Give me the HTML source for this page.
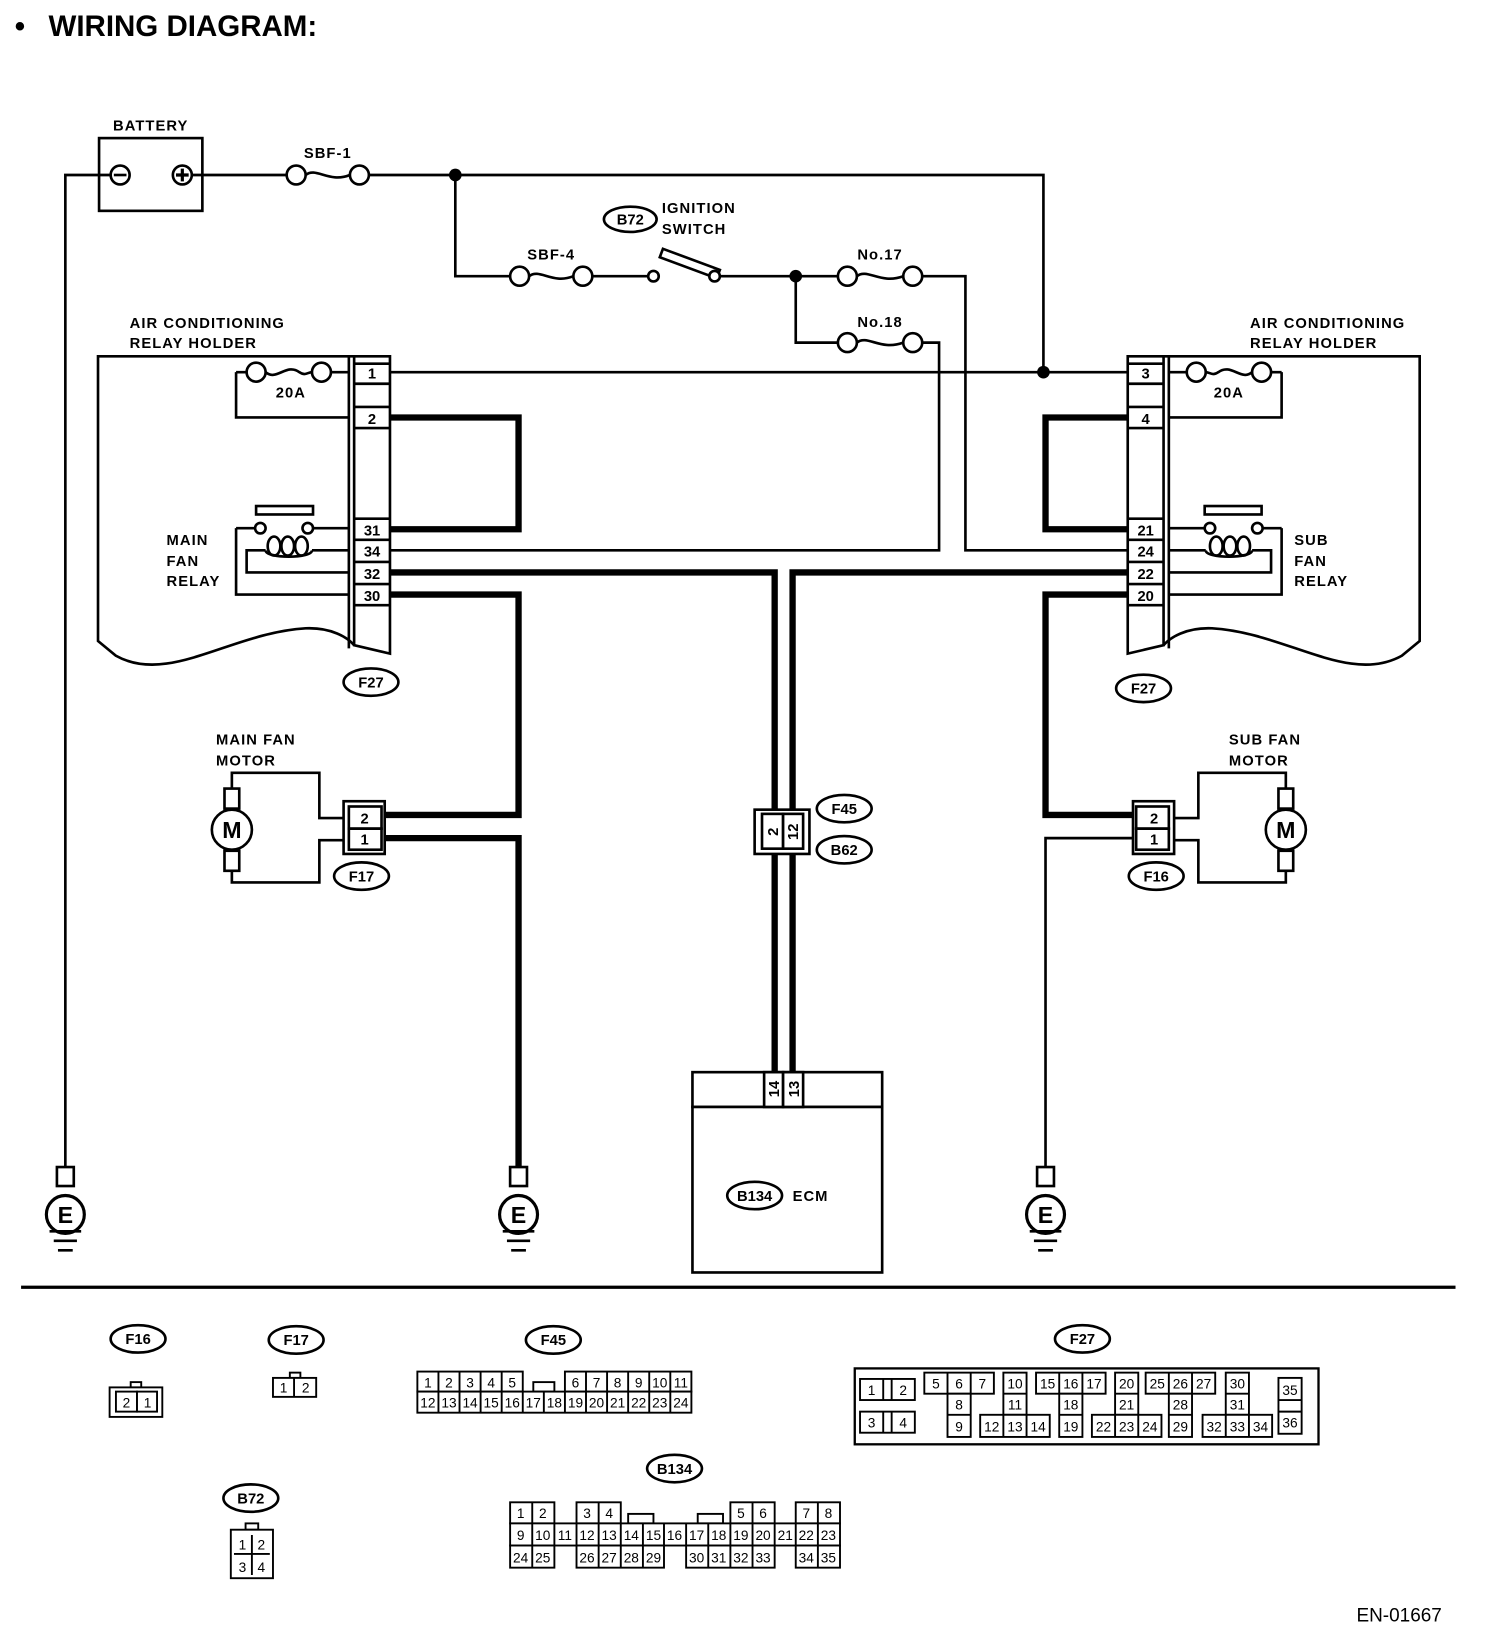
<!DOCTYPE html>
<html><head><meta charset="utf-8"><style>
html,body{margin:0;padding:0;background:#fff;}
svg{display:block;}
text{font-family:"Liberation Sans",sans-serif;fill:#000;}
.b{font-weight:bold;font-size:14px;letter-spacing:1px;}
.c{font-size:13px;text-anchor:middle;}
.cb{font-weight:bold;font-size:14px;text-anchor:middle;}
</style></head><body>
<svg width="1504" height="1652" viewBox="0 0 1427 1567" preserveAspectRatio="none" xmlns="http://www.w3.org/2000/svg">
<defs>
<g id="holder" fill="none" stroke="#000" stroke-width="2.5">
 <path d="M370,338 H93 V608 L110,622 C160,650 220,600 290,596 C315,595 330,605 336,612"/>
 <path d="M331,338 V615"/>
 <path d="M336,338 V612 L370,620 V338 Z" fill="#fff"/>
 <path d="M336,345 H370 M336,364 H370 M336,386 H370 M336,406 H370 M336,492 H370 M336,512 H370 M336,533 H370 M336,554 H370 M336,574 H370"/>
 <path d="M224,353 H234 M314,353 H331 M224,353 V396 H331"/>
 <circle cx="243" cy="353" r="9"/><circle cx="305" cy="353" r="9"/>
 <path d="M252,353 C262,362 272,344 284,353 C290,357 292,353 296,353"/>
 <rect x="243" y="480" width="54" height="8"/>
 <circle cx="247" cy="501" r="5"/><circle cx="292" cy="501" r="5"/>
 <path d="M224,501 H242 M297,501 H331 M224,501 V564 H331"/>
 <path d="M331,522 H296 M252,522 H234 V543 H331"/>
 <ellipse cx="260" cy="518" rx="6" ry="9"/><ellipse cx="273" cy="518" rx="6" ry="9"/><ellipse cx="286" cy="518" rx="6" ry="9"/>
 <path d="M252,522 C252,530 296,530 296,522"/>
</g>
<g id="motor" fill="none" stroke="#000" stroke-width="2.5">
 <circle cx="220" cy="787" r="19"/>
 <rect x="213" y="748" width="14" height="19" fill="#fff"/>
 <rect x="213" y="807" width="14" height="19" fill="#fff"/>
 <path d="M220,748 V733 H303 V776 H326 M220,826 V837 H303 V797 H326"/>
 <rect x="326" y="760" width="39" height="50" fill="#fff"/>
 <rect x="331" y="765" width="31" height="21"/><rect x="331" y="786" width="31" height="20"/>
</g>
<g id="gnd" fill="none" stroke="#000">
 <rect x="-8" y="1107" width="16" height="18" stroke-width="2.5" fill="#fff"/>
 <circle cx="0" cy="1152" r="18" stroke-width="3" fill="#fff"/>
 <path d="M-15,1168 H15 M-11,1177 H11 M-7,1186 H7" stroke-width="2.5"/>
</g>
</defs>

<text x="14" y="34" style="font-weight:bold;font-size:28px">•</text>
<text x="46" y="34" style="font-weight:bold;font-size:28px">WIRING DIAGRAM:</text>

<g fill="none" stroke="#000" stroke-width="2.5">
 <path d="M62,1107 V166 H105"/>
 <path d="M182,166 H272 M350,166 H990 V353"/>
 <path d="M432,166 V262 H484 M562,262 H615 M683,262 H795 M875,262 H916 V522 H1070"/>
 <path d="M755,262 V325 H795 M875,325 H891 V522 H370"/>
 <path d="M370,353 H1070"/>
 <path d="M1075,795 H992 V1107"/>
</g>
<g fill="none" stroke="#000" stroke-width="6">
 <path d="M370,396 H492 V502 H370"/>
 <path d="M1070,396 H992 V502 H1070"/>
 <path d="M370,543 H735 V1020"/>
 <path d="M1070,543 H752 V1020"/>
 <path d="M370,564 H492 V773 H365"/>
 <path d="M365,795 H492 V1107"/>
 <path d="M1070,564 H992 V773 H1075"/>
</g>
<circle cx="432" cy="166" r="6"/><circle cx="755" cy="262" r="6"/><circle cx="990" cy="353" r="6"/>

<g fill="none" stroke="#000" stroke-width="2.5">
 <rect x="94" y="131" width="98" height="69"/>
 <circle cx="114" cy="166" r="9"/><path d="M108,166 H120"/>
 <circle cx="173" cy="166" r="9"/><path d="M167,166 H179 M173,160 V172" stroke-width="3"/>
 <circle cx="281" cy="166" r="9"/><circle cx="341" cy="166" r="9"/><path d="M290,166 C300,158 312,174 332,166"/>
 <circle cx="493" cy="262" r="9"/><circle cx="553" cy="262" r="9"/><path d="M502,262 C512,254 524,270 544,262"/>
 <circle cx="804" cy="262" r="9"/><circle cx="866" cy="262" r="9"/><path d="M813,262 C823,254 835,270 857,262"/>
 <circle cx="804" cy="325" r="9"/><circle cx="866" cy="325" r="9"/><path d="M813,325 C823,317 835,333 857,325"/>
 <circle cx="620" cy="262" r="5" fill="#fff"/>
 <path d="M629,236 L683,256 L680,264 L626,244 Z" fill="#fff"/>
 <circle cx="678" cy="262" r="5" fill="#fff"/>
</g>
<text class="b" x="143" y="124" text-anchor="middle">BATTERY</text>
<text class="b" x="311" y="150" text-anchor="middle">SBF-1</text>
<text class="b" x="523" y="246" text-anchor="middle">SBF-4</text>
<text class="b" x="835" y="246" text-anchor="middle">No.17</text>
<text class="b" x="835" y="310" text-anchor="middle">No.18</text>
<text class="b" x="628" y="202">IGNITION</text>
<text class="b" x="628" y="222">SWITCH</text>

<use href="#holder"/>
<use href="#holder" transform="translate(1440,0) scale(-1,1)"/>
<g>
 <text x="353" y="359" class="cb">1</text><text x="353" y="402" class="cb">2</text>
 <text x="353" y="508" class="cb">31</text><text x="353" y="528" class="cb">34</text>
 <text x="353" y="549" class="cb">32</text><text x="353" y="570" class="cb">30</text>
 <text x="1087" y="359" class="cb">3</text><text x="1087" y="402" class="cb">4</text>
 <text x="1087" y="508" class="cb">21</text><text x="1087" y="528" class="cb">24</text>
 <text x="1087" y="549" class="cb">22</text><text x="1087" y="570" class="cb">20</text>
</g>
<text class="b" x="123" y="311">AIR CONDITIONING</text>
<text class="b" x="123" y="330">RELAY HOLDER</text>
<text class="b" x="1186" y="311">AIR CONDITIONING</text>
<text class="b" x="1186" y="330">RELAY HOLDER</text>
<text class="b" x="276" y="377" text-anchor="middle">20A</text>
<text class="b" x="1166" y="377" text-anchor="middle">20A</text>
<text class="b" x="158" y="517">MAIN</text><text class="b" x="158" y="537">FAN</text><text class="b" x="158" y="556">RELAY</text>
<text class="b" x="1228" y="517">SUB</text><text class="b" x="1228" y="537">FAN</text><text class="b" x="1228" y="556">RELAY</text>

<use href="#motor"/>
<use href="#motor" transform="translate(1440,0) scale(-1,1)"/>
<text x="220" y="795" style="font-weight:bold;font-size:22px" text-anchor="middle">M</text>
<text x="1220" y="795" style="font-weight:bold;font-size:22px" text-anchor="middle">M</text>
<text class="cb" x="346" y="781">2</text><text class="cb" x="346" y="801">1</text>
<text class="cb" x="1095" y="781">2</text><text class="cb" x="1095" y="801">1</text>
<text class="b" x="205" y="706">MAIN FAN</text><text class="b" x="205" y="726">MOTOR</text>
<text class="b" x="1166" y="706">SUB FAN</text><text class="b" x="1166" y="726">MOTOR</text>

<g fill="#fff" stroke="#000" stroke-width="2.5">
 <rect x="716" y="768" width="52" height="42"/>
 <rect x="723" y="772" width="20" height="33"/><rect x="743" y="772" width="19" height="33"/>
 <rect x="657" y="1017" width="180" height="33"/>
 <rect x="657" y="1050" width="180" height="157"/>
 <rect x="725" y="1017" width="18" height="33"/><rect x="743" y="1017" width="19" height="33"/>
</g>
<text class="cb" transform="translate(738,789) rotate(-90)">2</text>
<text class="cb" transform="translate(757,789) rotate(-90)">12</text>
<text class="cb" transform="translate(739,1033) rotate(-90)">14</text>
<text class="cb" transform="translate(758,1033) rotate(-90)">13</text>
<text class="b" x="752" y="1139">ECM</text>

<use href="#gnd" transform="translate(62,0)"/>
<use href="#gnd" transform="translate(492,0)"/>
<use href="#gnd" transform="translate(992,0)"/>
<text x="62" y="1160" style="font-weight:bold;font-size:22px" text-anchor="middle">E</text>
<text x="492" y="1160" style="font-weight:bold;font-size:22px" text-anchor="middle">E</text>
<text x="992" y="1160" style="font-weight:bold;font-size:22px" text-anchor="middle">E</text>

<g fill="#fff" stroke="#000" stroke-width="2.5">
 <ellipse cx="598" cy="208" rx="25" ry="12"/>
 <ellipse cx="352" cy="647" rx="26" ry="13"/>
 <ellipse cx="1085" cy="653" rx="26" ry="13"/>
 <ellipse cx="343" cy="831" rx="26" ry="13"/>
 <ellipse cx="1097" cy="831" rx="26" ry="13"/>
 <ellipse cx="801" cy="767" rx="26" ry="13"/>
 <ellipse cx="801" cy="806" rx="26" ry="13"/>
 <ellipse cx="716" cy="1134" rx="26" ry="13"/>
 <ellipse cx="131" cy="1270" rx="26" ry="13"/>
 <ellipse cx="281" cy="1271" rx="26" ry="13"/>
 <ellipse cx="525" cy="1271" rx="26" ry="13"/>
 <ellipse cx="1027" cy="1270" rx="26" ry="13"/>
 <ellipse cx="640" cy="1393" rx="26" ry="13"/>
 <ellipse cx="238" cy="1421" rx="26" ry="13"/>
</g>
<g>
 <text x="598" y="213" class="cb">B72</text>
 <text x="352" y="652" class="cb">F27</text>
 <text x="1085" y="658" class="cb">F27</text>
 <text x="343" y="836" class="cb">F17</text>
 <text x="1097" y="836" class="cb">F16</text>
 <text x="801" y="772" class="cb">F45</text>
 <text x="801" y="811" class="cb">B62</text>
 <text x="716" y="1139" class="cb">B134</text>
 <text x="131" y="1275" class="cb">F16</text>
 <text x="281" y="1276" class="cb">F17</text>
 <text x="525" y="1276" class="cb">F45</text>
 <text x="1027" y="1275" class="cb">F27</text>
 <text x="640" y="1398" class="cb">B134</text>
 <text x="238" y="1426" class="cb">B72</text>
</g>

<path d="M20,1221 H1381" stroke="#000" stroke-width="3"/>

<g fill="#fff" stroke="#000" stroke-width="1.8">
 <rect x="124" y="1311" width="10" height="5"/>
 <rect x="104" y="1316" width="50" height="28"/>
 <rect x="110" y="1320" width="20" height="19"/><rect x="130" y="1320" width="19" height="19"/>
 <rect x="275" y="1302" width="10" height="5"/>
 <rect x="259" y="1307" width="41" height="18"/><path d="M279,1307 V1325"/>
 <rect x="233" y="1445" width="12" height="6"/>
 <rect x="219" y="1451" width="40" height="46"/>
 <path d="M239,1456 V1494 M222,1474 H256"/>
 <rect x="396" y="1301" width="100" height="19"/>
 <path d="M416,1301 V1320 M436,1301 V1320 M456,1301 V1320 M476,1301 V1320"/>
 <rect x="536" y="1301" width="120" height="19"/>
 <path d="M556,1301 V1320 M576,1301 V1320 M596,1301 V1320 M616,1301 V1320 M636,1301 V1320"/>
 <rect x="506" y="1311" width="20" height="9"/>
 <rect x="396" y="1320" width="260" height="20"/>
 <path d="M416,1320 V1340 M436,1320 V1340 M456,1320 V1340 M476,1320 V1340 M496,1320 V1340 M516,1320 V1340 M536,1320 V1340 M556,1320 V1340 M576,1320 V1340 M596,1320 V1340 M616,1320 V1340 M636,1320 V1340"/>
 <rect x="484" y="1425" width="42" height="20"/><path d="M505,1425 V1445"/>
 <rect x="547" y="1425" width="42" height="20"/><path d="M568,1425 V1445"/>
 <rect x="596" y="1436" width="24" height="9"/>
 <rect x="662" y="1436" width="24" height="9"/>
 <rect x="693" y="1425" width="42" height="20"/><path d="M714,1425 V1445"/>
 <rect x="755" y="1425" width="42" height="20"/><path d="M776,1425 V1445"/>
 <rect x="484" y="1445" width="313" height="21"/>
 <path d="M505,1445 V1466 M526,1445 V1466 M547,1445 V1466 M568,1445 V1466 M589,1445 V1466 M610,1445 V1466 M630,1445 V1466 M651,1445 V1466 M672,1445 V1466 M693,1445 V1466 M714,1445 V1466 M735,1445 V1466 M755,1445 V1466 M776,1445 V1466"/>
 <rect x="484" y="1466" width="42" height="21"/><path d="M505,1466 V1487"/>
 <rect x="547" y="1466" width="83" height="21"/><path d="M568,1466 V1487 M589,1466 V1487 M610,1466 V1487"/>
 <rect x="651" y="1466" width="84" height="21"/><path d="M672,1466 V1487 M693,1466 V1487 M714,1466 V1487"/>
 <rect x="755" y="1466" width="42" height="21"/><path d="M776,1466 V1487"/>
 <rect x="811" y="1298" width="440" height="72" stroke-width="2.2"/>
 <rect x="816" y="1308" width="52" height="20"/><path d="M838,1308 V1328 M846,1308 V1328"/>
 <rect x="816" y="1339" width="52" height="20"/><path d="M838,1339 V1359 M846,1339 V1359"/>
 <rect x="877" y="1302" width="66" height="20"/><path d="M899,1302 V1322 M921,1302 V1322"/>
 <rect x="899" y="1322" width="22" height="41"/><path d="M899,1342 H921"/>
 <rect x="952" y="1302" width="22" height="40"/><path d="M952,1322 H974"/>
 <rect x="930" y="1342" width="66" height="21"/><path d="M952,1342 V1363 M974,1342 V1363"/>
 <rect x="983" y="1302" width="66" height="20"/><path d="M1005,1302 V1322 M1027,1302 V1322"/>
 <rect x="1005" y="1322" width="22" height="41"/><path d="M1005,1342 H1027"/>
 <rect x="1058" y="1302" width="22" height="40"/><path d="M1058,1322 H1080"/>
 <rect x="1036" y="1342" width="66" height="21"/><path d="M1058,1342 V1363 M1080,1342 V1363"/>
 <rect x="1087" y="1302" width="66" height="20"/><path d="M1109,1302 V1322 M1131,1302 V1322"/>
 <rect x="1109" y="1322" width="22" height="41"/><path d="M1109,1342 H1131"/>
 <rect x="1163" y="1302" width="22" height="40"/><path d="M1163,1322 H1185"/>
 <rect x="1141" y="1342" width="66" height="21"/><path d="M1163,1342 V1363 M1185,1342 V1363"/>
 <rect x="1213" y="1307" width="22" height="53"/><path d="M1213,1328 H1235 M1213,1339 H1235"/>
</g>
<g>
 <text x="120" y="1335" class="c">2</text><text x="140" y="1335" class="c">1</text>
 <text x="269" y="1321" class="c">1</text><text x="290" y="1321" class="c">2</text>
 <text x="230" y="1470" class="c">1</text><text x="248" y="1470" class="c">2</text>
 <text x="230" y="1491" class="c">3</text><text x="248" y="1491" class="c">4</text>
 <text x="406" y="1316" class="c">1</text><text x="426" y="1316" class="c">2</text><text x="446" y="1316" class="c">3</text><text x="466" y="1316" class="c">4</text><text x="486" y="1316" class="c">5</text>
 <text x="546" y="1316" class="c">6</text><text x="566" y="1316" class="c">7</text><text x="586" y="1316" class="c">8</text><text x="606" y="1316" class="c">9</text><text x="626" y="1316" class="c">10</text><text x="646" y="1316" class="c">11</text>
 <text x="406" y="1335" class="c">12</text><text x="426" y="1335" class="c">13</text><text x="446" y="1335" class="c">14</text><text x="466" y="1335" class="c">15</text><text x="486" y="1335" class="c">16</text><text x="506" y="1335" class="c">17</text><text x="526" y="1335" class="c">18</text><text x="546" y="1335" class="c">19</text><text x="566" y="1335" class="c">20</text><text x="586" y="1335" class="c">21</text><text x="606" y="1335" class="c">22</text><text x="626" y="1335" class="c">23</text><text x="646" y="1335" class="c">24</text>
 <text x="494" y="1440" class="c">1</text><text x="515" y="1440" class="c">2</text><text x="557" y="1440" class="c">3</text><text x="578" y="1440" class="c">4</text>
 <text x="703" y="1440" class="c">5</text><text x="724" y="1440" class="c">6</text><text x="765" y="1440" class="c">7</text><text x="786" y="1440" class="c">8</text>
 <text x="494" y="1461" class="c">9</text><text x="515" y="1461" class="c">10</text><text x="536" y="1461" class="c">11</text><text x="557" y="1461" class="c">12</text><text x="578" y="1461" class="c">13</text><text x="599" y="1461" class="c">14</text><text x="620" y="1461" class="c">15</text><text x="640" y="1461" class="c">16</text><text x="661" y="1461" class="c">17</text><text x="682" y="1461" class="c">18</text><text x="703" y="1461" class="c">19</text><text x="724" y="1461" class="c">20</text><text x="745" y="1461" class="c">21</text><text x="765" y="1461" class="c">22</text><text x="786" y="1461" class="c">23</text>
 <text x="494" y="1482" class="c">24</text><text x="515" y="1482" class="c">25</text><text x="557" y="1482" class="c">26</text><text x="578" y="1482" class="c">27</text><text x="599" y="1482" class="c">28</text><text x="620" y="1482" class="c">29</text><text x="661" y="1482" class="c">30</text><text x="682" y="1482" class="c">31</text><text x="703" y="1482" class="c">32</text><text x="724" y="1482" class="c">33</text><text x="765" y="1482" class="c">34</text><text x="786" y="1482" class="c">35</text>
 <text x="827" y="1323" class="c">1</text><text x="857" y="1323" class="c">2</text><text x="827" y="1354" class="c">3</text><text x="857" y="1354" class="c">4</text>
 <text x="888" y="1317" class="c">5</text><text x="910" y="1317" class="c">6</text><text x="932" y="1317" class="c">7</text><text x="910" y="1337" class="c">8</text><text x="910" y="1358" class="c">9</text>
 <text x="963" y="1317" class="c">10</text><text x="963" y="1337" class="c">11</text><text x="941" y="1358" class="c">12</text><text x="963" y="1358" class="c">13</text><text x="985" y="1358" class="c">14</text>
 <text x="994" y="1317" class="c">15</text><text x="1016" y="1317" class="c">16</text><text x="1038" y="1317" class="c">17</text><text x="1016" y="1337" class="c">18</text><text x="1016" y="1358" class="c">19</text>
 <text x="1069" y="1317" class="c">20</text><text x="1069" y="1337" class="c">21</text><text x="1047" y="1358" class="c">22</text><text x="1069" y="1358" class="c">23</text><text x="1091" y="1358" class="c">24</text>
 <text x="1098" y="1317" class="c">25</text><text x="1120" y="1317" class="c">26</text><text x="1142" y="1317" class="c">27</text><text x="1120" y="1337" class="c">28</text><text x="1120" y="1358" class="c">29</text>
 <text x="1174" y="1317" class="c">30</text><text x="1174" y="1337" class="c">31</text><text x="1152" y="1358" class="c">32</text><text x="1174" y="1358" class="c">33</text><text x="1196" y="1358" class="c">34</text>
 <text x="1224" y="1323" class="c">35</text><text x="1224" y="1354" class="c">36</text>
</g>

<text x="1287" y="1538" style="font-size:18px">EN-01667</text>
</svg>
</body></html>
